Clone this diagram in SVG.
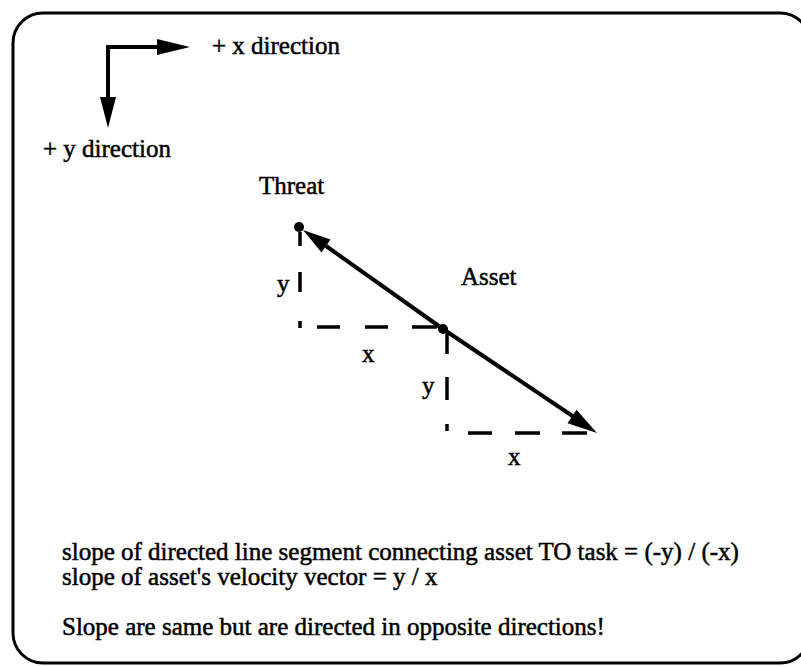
<svg xmlns="http://www.w3.org/2000/svg" width="801" height="667" viewBox="0 0 801 667">
<style>
text{font-family:"Liberation Serif","Times New Roman",serif;font-size:25px;fill:#000;stroke:#000;stroke-width:0.5}
.ln{stroke:#000;stroke-width:4;fill:none}
.dash{stroke:#000;stroke-width:3.5;fill:none}
.head{fill:#000}
</style>
<rect x="0" y="0" width="801" height="667" fill="#fff"/>
<rect id="frame" x="13" y="13" width="797" height="650" rx="30" ry="30" fill="none" stroke="#000" stroke-width="3"/>
<g id="axes">
<path class="ln" d="M108,47 H160 M108,45 V100"/>
<polygon class="head" points="157,39 190,47 157,55"/>
<polygon class="head" points="100,97 108,128 116,97"/>
<text x="212" y="54">+ x direction</text>
<text x="43" y="157">+ y direction</text>
</g>
<g id="threat">
<circle cx="299" cy="227" r="5" fill="#000"/>
<text x="259" y="194">Threat</text>
</g>
<g id="asset">
<circle cx="443" cy="329" r="5" fill="#000"/>
<text x="461" y="285">Asset</text>
</g>
<g id="connectors">
<line class="ln" x1="443" y1="329" x2="326" y2="246"/>
<polygon class="head" points="303,230 330.5,239.5 321.5,252.5"/>
<line class="ln" x1="443" y1="329" x2="574" y2="417"/>
<polygon class="head" points="597,433 567.5,423.2 576.5,409.8"/>
<path class="dash" d="M300,232 V246 M300,272 V292 M300,321 V328 M317,327 H340 M365,327 H388 M412,327 H437 M447,333 V354 M447,377 V400 M447,424 V431 M468,433 H492 M515,433 H540 M562,433 H587"/>
</g>
<g id="labels">
<text x="277" y="292">y</text>
<text x="362" y="362">x</text>
<text x="422" y="394">y</text>
<text x="508" y="465">x</text>
</g>
<g id="notes">
<text x="62" y="560">slope of directed line segment connecting asset TO task = (-y) / (-x)</text>
<text x="62" y="585">slope of asset's velocity vector = y / x</text>
<text x="62" y="635">Slope are same but are directed in opposite directions!</text>
</g>
</svg>
